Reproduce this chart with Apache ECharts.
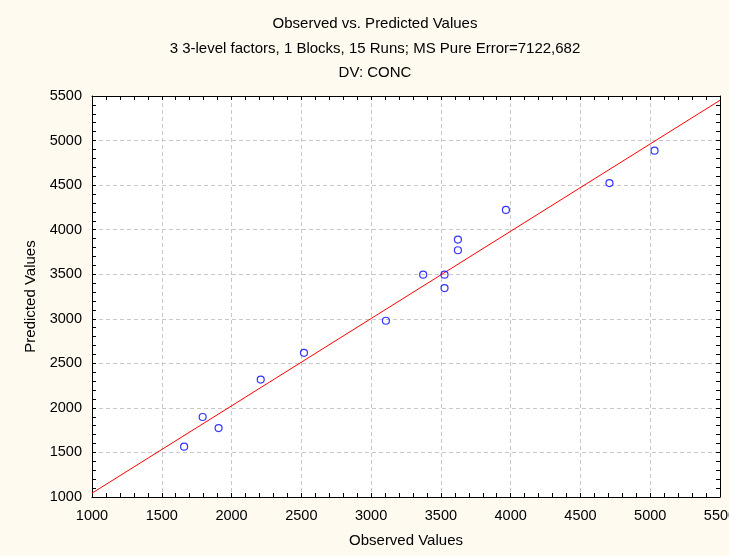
<!DOCTYPE html>
<html>
<head>
<meta charset="utf-8">
<script src="https://cdn.jsdelivr.net/npm/echarts@6/dist/echarts.min.js"></script>
<style>
html,body{margin:0;padding:0;background:#FEFAF0;}
#c{width:729px;height:556px;}
</style>
</head>
<body>
<div id="c"></div>
<script>
// Data
const observed  = [1660, 1793, 1907, 2209, 2519, 3106, 3373, 3526, 3526, 3622, 3622, 3966, 4708, 5031];
const predicted = [1565, 1898, 1774, 2318, 2618, 2978, 3495, 3495, 3345, 3769, 3889, 4222, 4523, 4886];
const fitLineX = [1000, 5500];
const fitLineY = [1043, 5452];
const titleLines = ['Observed vs. Predicted Values', '3 3-level factors, 1 Blocks, 15 Runs; MS Pure Error=7122,682', 'DV: CONC'];
const xAxisName = 'Observed Values';
const yAxisName = 'Predicted Values';

const font = '"Liberation Sans", Arial, sans-serif';
const chart = echarts.init(document.getElementById('c'), null, {renderer: 'canvas'});

const common = {
  min: 1000, max: 5500, interval: 500,
  axisLine: {show: true, onZero: false, lineStyle: {color: '#000', width: 1}},
  axisTick: {show: true, inside: true, length: 4, lineStyle: {color: '#000'}},
  minorTick: {show: true, splitNumber: 5, length: 4, lineStyle: {color: '#000'}},
};
const fmt = v => String(v);

chart.setOption({
  backgroundColor: '#FEFAF0',
  animation: false,
  graphic: titleLines.map((t, i) => ({
    type: 'text', x: 375, y: [24, 49, 73][i],
    style: {text: t, fill: '#000', font: '15px ' + font, textAlign: 'center', textVerticalAlign: 'middle'}
  })),
  grid: {left: 92, top: 96, right: 9, bottom: 59, show: true, backgroundColor: '#fff', borderWidth: 0,
         containLabel: false, outerBoundsMode: 'none'},
  xAxis: [
    Object.assign({}, common, {
      type: 'value', position: 'bottom',
      name: xAxisName, nameLocation: 'middle', nameGap: 36,
      nameTextStyle: {fontFamily: font, fontSize: 15, color: '#000'},
      axisLabel: {fontFamily: font, fontSize: 14.5, color: '#000', margin: 11, formatter: fmt},
      splitLine: {show: true, lineStyle: {color: '#c8c8c8', type: [4, 3]}}
    }),
    Object.assign({}, common, {
      type: 'value', position: 'top',
      axisLabel: {show: false}, splitLine: {show: false}
    })
  ],
  yAxis: [
    Object.assign({}, common, {
      type: 'value', position: 'left',
      name: yAxisName, nameLocation: 'middle', nameGap: 53, nameRotate: 90,
      nameTextStyle: {fontFamily: font, fontSize: 15, color: '#000'},
      axisLabel: {fontFamily: font, fontSize: 14.5, color: '#000', margin: 10, formatter: fmt},
      splitLine: {show: true, lineStyle: {color: '#c8c8c8', type: [4, 3]}}
    }),
    Object.assign({}, common, {
      type: 'value', position: 'right',
      axisLabel: {show: false}, splitLine: {show: false}
    })
  ],
  series: [
    {
      type: 'line',
      data: fitLineX.map((x, i) => [x, fitLineY[i]]),
      showSymbol: false, symbol: 'none',
      lineStyle: {color: '#ff0000', width: 1},
      silent: true, z: 2
    },
    {
      type: 'scatter',
      data: observed.map((x, i) => [x, predicted[i]]),
      symbol: 'circle', symbolSize: 7,
      itemStyle: {color: 'rgba(255,255,255,0)', borderColor: '#0000ff', borderWidth: 1.2},
      z: 3
    }
  ]
});
</script>
</body>
</html>
